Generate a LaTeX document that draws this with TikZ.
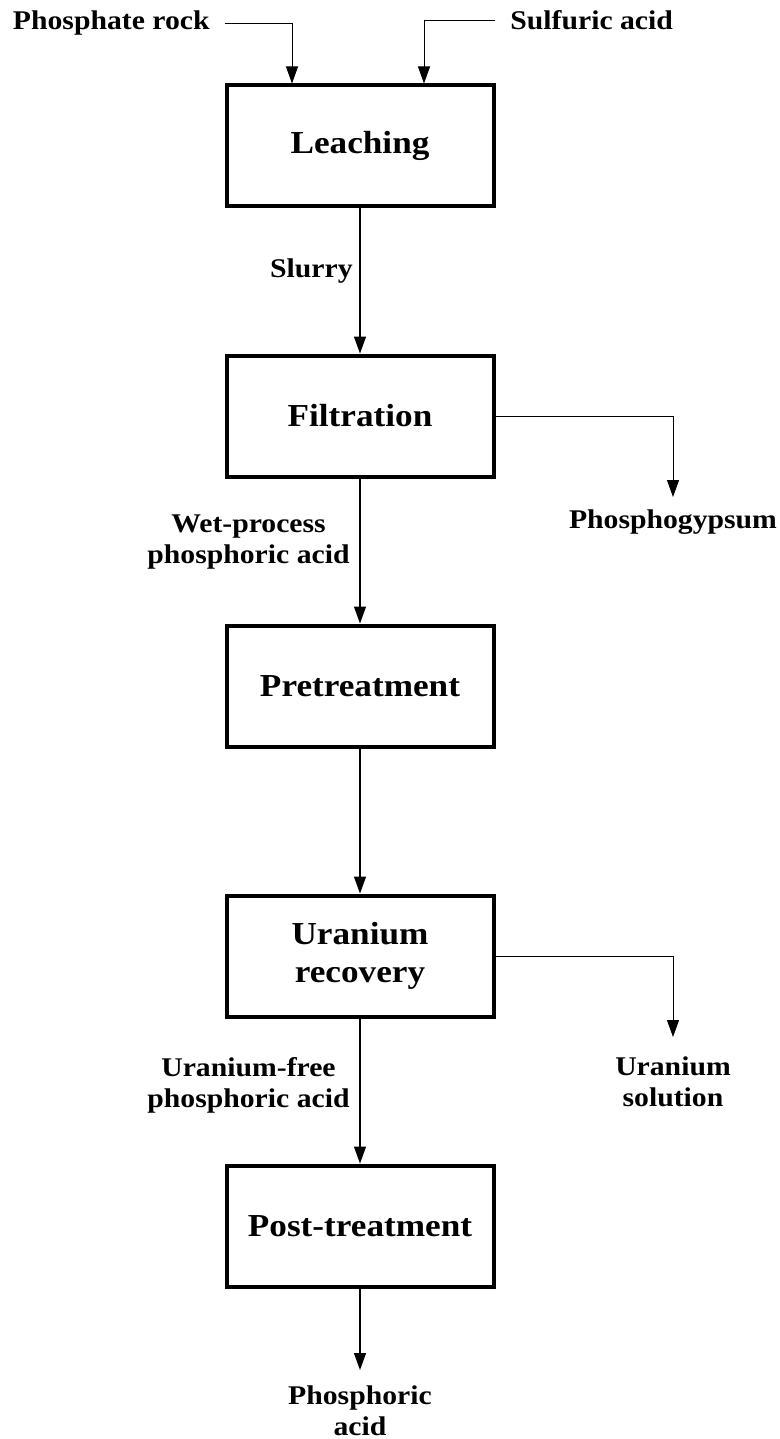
\documentclass[tikz,border=0pt]{standalone}
\usepackage{fontspec}
\setmainfont{Liberation Serif}[FakeStretch=1.1]
\usetikzlibrary{arrows.meta}

\tikzset{
  unit/.style={draw, line width=2pt, minimum width=133.5pt, minimum height=60.5pt,
    align=center, font=\fontsize{16}{19}\selectfont\bfseries},
  lbl/.style={inner sep=0pt, align=center, font=\fontsize{13.5}{15.5}\selectfont\bfseries},
  flow/.style={line width=0.6pt, -{Triangle[length=8.5pt,width=6pt]}},
}

\begin{document}
\begin{tikzpicture}[x=0.5pt,y=-0.5pt]
\useasboundingbox (0,0) rectangle (780,1439);
\def\cx{360}
\def\dy{270}

% process units, one under the other
\foreach \nm/\row/\txt in {leach/0/Leaching, filt/1/Filtration, pre/2/Pretreatment,
    urec/3/{Uranium\\recovery}, post/4/Post-treatment} {
  \node[unit] (\nm) at (\cx,146+\dy*\row) {\txt};
}

% feeds
\node[lbl, anchor=base east] (rock) at (210,30) {Phosphate rock};
\node[lbl, anchor=base west] (acid) at (510,30) {Sulfuric acid};
\draw[flow, line width=0.5pt, shorten <=7.5pt] (rock.east) -| ([xshift=-34pt]leach.north);
\draw[flow, line width=0.5pt, shorten <=7.5pt] (acid.west) -| ([xshift=32pt]leach.north);

% main stream
\foreach \a/\b in {leach/filt, filt/pre, pre/urec, urec/post}
  \draw[flow] (\a) -- (\b);
\node[lbl, anchor=base east] (slurry) at (353,278) {Slurry};
\node[lbl, anchor=east] (wet) at (350,542) {Wet-process\\phosphoric acid};
\node[lbl, anchor=east] (ufree) at (350,1085) {Uranium-free\\phosphoric acid};

% side streams and product
\node[lbl, anchor=north] (gyps) at (673,509) {Phosphogypsum};
\node[lbl, anchor=north] (usol) at (673,1056) {Uranium\\solution};
\node[lbl, anchor=north] (prod) at (\cx,1385) {Phosphoric\\acid};
\draw[flow, line width=0.5pt, shorten >=6pt] (filt.east) -| (gyps.north);
\draw[flow, line width=0.5pt, shorten >=9.5pt] (urec.east) -| (usol.north);
\draw[flow, shorten >=7.5pt] (post) -- (prod.north);
\end{tikzpicture}
\end{document}
